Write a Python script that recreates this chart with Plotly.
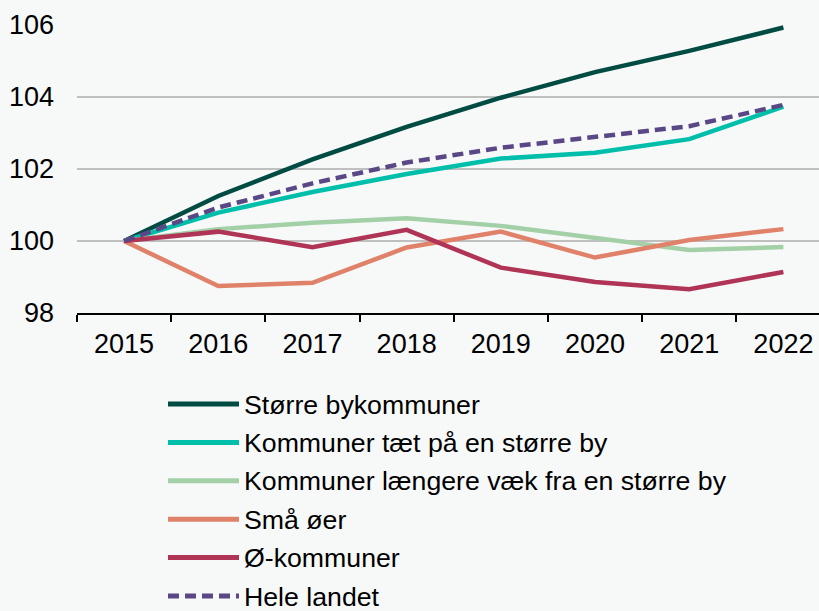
import plotly.graph_objects as go

years = ["2015", "2016", "2017", "2018", "2019", "2020", "2021", "2022"]

storre_bykommuner = [100, 101.25, 102.27, 103.17, 103.98, 104.69, 105.28, 105.93]
taet_paa_by = [100, 100.79, 101.36, 101.86, 102.29, 102.45, 102.83, 103.73]
laengere_vaek = [100, 100.33, 100.51, 100.63, 100.42, 100.07, 99.75, 99.83]
smaa_oeer = [100, 98.75, 98.84, 99.82, 100.26, 99.54, 100.03, 100.33]
oe_kommuner = [100, 100.26, 99.83, 100.31, 99.26, 98.86, 98.66, 99.14]
hele_landet = [100, 100.93, 101.6, 102.18, 102.59, 102.89, 103.19, 103.78]

names = [
    "Større bykommuner",
    "Kommuner tæt på en større by",
    "Kommuner længere væk fra en større by",
    "Små øer",
    "Ø-kommuner",
    "Hele landet",
]
series = [storre_bykommuner, taet_paa_by, laengere_vaek, smaa_oeer, oe_kommuner, hele_landet]
colors = ["#004C42", "#00BFAA", "#A3D0A6", "#E0826A", "#B03455", "#5A4785"]
dashes = ["solid", "solid", "solid", "solid", "solid", "11px,6px"]

W, H = 819, 611
ML, MT, MB, MR = 77, 25, 298, 0
PW = W - ML - MR
PH = H - MT - MB

def px_x(px):
    return (px - ML) / PW

def px_y(py):
    return (H - MB - py) / PH

fig = go.Figure()
for name, vals, col, dash in zip(names, series, colors, dashes):
    fig.add_trace(go.Scatter(
        x=years, y=vals, name=name, mode="lines",
        line=dict(color=col, width=4.5, dash=dash),
        showlegend=False,
    ))

font = "Arial, Liberation Sans, Helvetica, sans-serif"
FS = 27
LFS = 26.7
shapes = []
annotations = []
for i, (name, col, dash) in enumerate(zip(names, colors, dashes)):
    ry = 404 + 38.4 * i
    shapes.append(dict(
        type="line", xref="paper", yref="paper",
        x0=px_x(168), x1=px_x(239), y0=px_y(ry), y1=px_y(ry),
        line=dict(color=col, width=5, dash=dash),
    ))
    annotations.append(dict(
        xref="paper", yref="paper", x=px_x(243), y=px_y(ry + 0.5),
        xanchor="left", yanchor="middle", text=name, showarrow=False,
        borderpad=0,
        font=dict(family=font, size=LFS, color="#000000"),
    ))

bg = "#F7F9F9"
fig.update_layout(
    width=W, height=H,
    margin=dict(l=ML, r=MR, t=MT, b=MB, pad=0),
    paper_bgcolor=bg, plot_bgcolor=bg,
    font=dict(family=font, size=FS, color="#000000"),
    shapes=shapes, annotations=annotations,
    xaxis=dict(
        type="category", range=[-0.5, 7.378],
        showline=True, linecolor="#000000", linewidth=2,
        ticks="outside", tickson="boundaries", ticklen=7, tickwidth=2, tickcolor="#000000",
        showgrid=False, zeroline=False,
        tickfont=dict(size=FS), ticklabelstandoff=6,
    ),
    yaxis=dict(
        range=[98, 106], tickvals=[98, 100, 102, 104, 106],
        showgrid=True, gridcolor="#BFBFBF", gridwidth=1.5,
        zeroline=False, showline=False, ticks="",
        tickfont=dict(size=FS), ticklabelstandoff=22,
    ),
)

fig.write_html("out.html", config={"displayModeBar": False})

with open("out.html", "r", encoding="utf-8") as f:
    html = f.read()
html = html.replace("<head>", "<head><style>html,body{margin:0;padding:0;overflow:hidden;background:#F7F9F9;}</style>", 1)
with open("out.html", "w", encoding="utf-8") as f:
    f.write(html)
